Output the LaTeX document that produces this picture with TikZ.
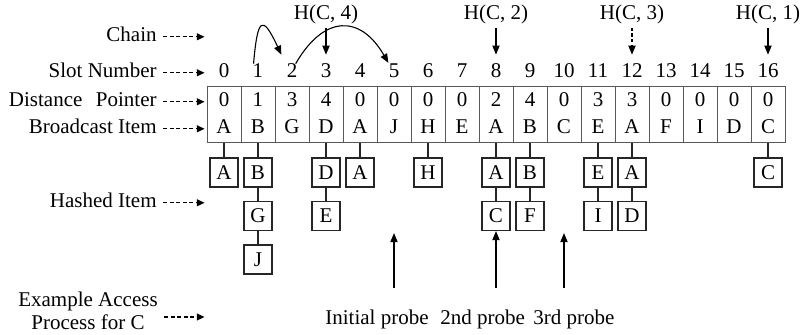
\documentclass[tikz,border=0pt]{standalone}
\usepackage{fontspec}
\setmainfont{Liberation Serif}
\usetikzlibrary{arrows.meta}

\begin{document}
\begin{tikzpicture}[x=0.5pt,y=-0.5pt,
  font=\fontsize{10.5}{11.5}\selectfont,
  every node/.style={inner sep=0pt},
  slotcol/.style={draw=black!65,line width=0.45pt,minimum width=17pt,minimum height=28pt},
  hashbox/.style={draw=black!85,line width=0.6pt,minimum width=14pt,minimum height=14.5pt},
  pointer/.style={line width=0.6pt,dash pattern=on 2pt off 1.3pt,-{Triangle[length=3.8pt,width=3.4pt]}},
  probe/.style={line width=0.55pt,-{Triangle[length=4.5pt,width=3.6pt]}},
]
\useasboundingbox (0,0) rectangle (805,335);

% slots: distance pointer / broadcast item
\foreach \d/\b [count=\k from 0] in {0/A,1/B,3/G,4/D,0/A,0/J,0/H,0/E,2/A,4/B,0/C,3/E,3/A,0/F,0/I,0/D,0/C}
{
  \node[slotcol] (col\k) at ({224+34*\k},114.5) {};
  \node[anchor=base] (s\k) at ({224+34*\k},78) {\k};
  \node[anchor=base] (d\k) at ({224+34*\k},107) {\d};
  \node[anchor=base] (b\k) at ({224+34*\k},134) {\b};
}

% hashed items: slot/level/item
\foreach \k/\j/\h in {0/1/A,1/1/B,1/2/G,1/3/J,3/1/D,3/2/E,4/1/A,6/1/H,8/1/A,8/2/C,9/1/B,9/2/F,11/1/E,11/2/I,12/1/A,12/2/D,16/1/C}
{
  \node[hashbox] (hb\k-\j) at ({224+34*\k},{129+43.5*\j}) {\h};
  \ifnum\j=1
    \draw[black!85,line width=0.6pt] (col\k.south) -- (hb\k-\j.north);
  \else
    \pgfmathtruncatemacro\prev{\j-1}
    \draw[black!85,line width=0.6pt] (hb\k-\prev.south) -- (hb\k-\j.north);
  \fi
}

% row labels
\foreach \name/\yy/\txt in {chainlbl/42/Chain,slotlbl/78/Slot Number,distlbl/107/Distance\hspace{1.5pt}\ \ Pointer,itemlbl/134/Broadcast Item,hashlbl/208/Hashed Item}
{
  \node[anchor=base east] (\name) at (157,\yy) {\txt};
  \draw[pointer] ([xshift=3pt,yshift=2.6pt]\name.base east) -- ([xshift=-1pt,yshift=2.6pt]\name.base east -| col0.west);
}
\node[align=center] (examplelbl) at (88,311) {Example Access\\Process for C};
\draw[pointer] ([xshift=3pt,yshift=-3pt]examplelbl.east) -- ([xshift=-1pt,yshift=-3pt]examplelbl.east -| col0.west);

% chain
\draw[probe] ([xshift=0.6pt]s1.north west) to[out=85,in=115,looseness=4] ([xshift=-2.5pt,yshift=4.5pt]s2.north west);
\draw[probe] ([xshift=-1pt]s2.north east) to[out=60,in=120,looseness=1.55] ([yshift=0.5pt]s5.north west);

% hash functions
\foreach \name/\slot/\i in {hca/3/4,hcb/8/2,hcc/12/3,hcd/16/1}
  \node[anchor=base] (\name) at (s\slot |- 0,20) {H(C, \i)};
\draw[probe] ([yshift=-1.5pt]hca.south) -- ([yshift=4.5pt]s3.north);
\draw[probe] ([yshift=-1.5pt]hcb.south) -- ([yshift=4.5pt]s8.north);
\draw[probe,dash pattern=on 1.6pt off 1.2pt] ([yshift=-1.5pt]hcc.south) -- ([yshift=4.5pt]s12.north);
\draw[probe] ([yshift=-1.5pt]hcd.south) -- ([yshift=4.5pt]s16.north);

% probes for C
\coordinate (tail5) at (s5 |- 0,288);
\coordinate (tail8) at (s8 |- 0,288);
\coordinate (tail10) at (s10 |- 0,288);
\draw[probe] (tail5) -- ([yshift=-1pt]tail5 |- hb8-2.south);
\draw[probe] (tail8) -- (hb8-2.south);
\draw[probe] (tail10) -- ([yshift=-1pt]tail10 |- hb8-2.south);
\node[anchor=base west] (probea) at (325,325) {Initial probe};
\node[anchor=base west] (probeb) at (440,325) {2nd probe};
\node[anchor=base west] (probec) at (533,325) {3rd probe};
\end{tikzpicture}
\end{document}
